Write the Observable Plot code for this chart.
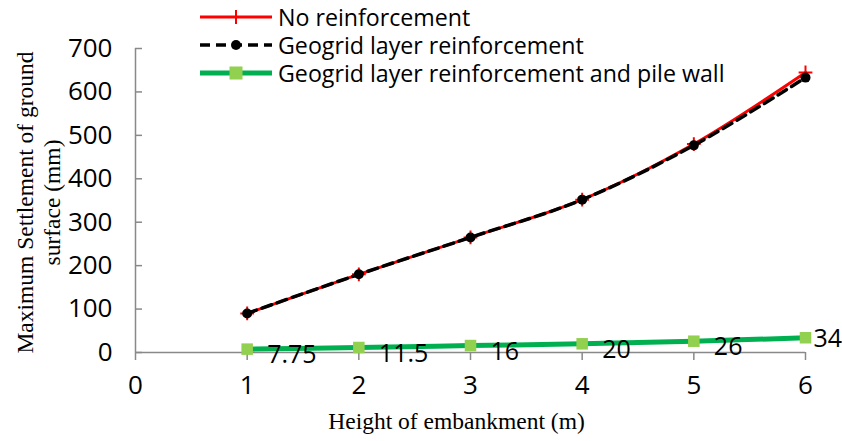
<!DOCTYPE html>
<html><head><meta charset="utf-8">
<script src="https://cdn.jsdelivr.net/npm/d3@7"></script>
<script src="https://cdn.jsdelivr.net/npm/@observablehq/plot@0.6"></script>
<style>
body{margin:0;background:#fff;}
#wrap{position:relative;width:842px;height:441px;overflow:hidden;}
#legend{position:absolute;left:200px;top:3px;font-family:"Open Sans",sans-serif;font-size:23.2px;line-height:27px;color:#000;}
.row{display:flex;align-items:center;height:28px;white-space:nowrap;}
.row span{line-height:27px;}
.row svg{margin-right:6px;}
</style></head><body>
<div id="wrap"><div id="chart"></div><div id="legend"></div></div>
<script>
const heights = [1, 2, 3, 4, 5, 6];
const noReinforcement = [90, 180, 265, 352, 480, 645];
const geogrid = [90, 180, 265, 352, 477, 633];
const geogridPile = [7.75, 11.5, 16, 20, 26, 34];
const seriesNames = ["No reinforcement", "Geogrid layer reinforcement", "Geogrid layer reinforcement and pile wall"];
const xTicks = [0, 1, 2, 3, 4, 5, 6];
const yTicks = [0, 100, 200, 300, 400, 500, 600, 700];
const xTitle = "Height of embankment (m)";
const yTitle1 = "Maximum Settlement of ground";
const yTitle2 = "surface (mm)";

const red = heights.map((h, i) => ({x: h, y: noReinforcement[i]}));
const blk = heights.map((h, i) => ({x: h, y: geogrid[i]}));
const grn = heights.map((h, i) => ({x: h, y: geogridPile[i], label: String(geogridPile[i])}));

const gray = "#898989";
const sans = "'Open Sans', sans-serif";
const serif = "'Liberation Serif', 'Times New Roman', serif";

const plot = Plot.plot({
  width: 842, height: 441,
  marginLeft: 135, marginRight: 37, marginTop: 48, marginBottom: 89,
  style: {fontFamily: sans, fontSize: "26px", background: "#fff", color: "#000"},
  x: {domain: [0, 6]},
  y: {domain: [0, 700]},
  marks: [
    Plot.ruleY([0], {stroke: gray, strokeWidth: 1.5}),
    Plot.ruleX([0], {stroke: gray, strokeWidth: 1.5}),
    Plot.axisX({ticks: xTicks, tickFormat: d => String(d), tickSize: 8, tickPadding: 15, stroke: gray, strokeWidth: 1.5, label: null, fontSize: 26, fill: "#000"}),
    Plot.axisY({ticks: yTicks, tickFormat: d => String(d), tickSize: 0, tickPadding: 23, label: null, fontSize: 26, fill: "#000"}),
    Plot.axisY({ticks: yTicks, tickSize: -7, text: null, stroke: gray, strokeWidth: 1.5, label: null}),
    Plot.text([xTitle], {frameAnchor: "bottom", dx: -14, dy: 76, fontFamily: serif, fontSize: 23.5}),
    Plot.text([yTitle1], {frameAnchor: "left", textAnchor: "middle", rotate: -90, dx: -110, dy: 2, fontFamily: serif, fontSize: 23.5}),
    Plot.text([yTitle2], {frameAnchor: "left", textAnchor: "middle", rotate: -90, dx: -83, dy: 2, fontFamily: serif, fontSize: 23.5}),
    Plot.line(red, {x: "x", y: "y", stroke: "#FF0000", strokeWidth: 3, curve: "catmull-rom"}),
    Plot.dot(red, {x: "x", y: "y", symbol: "plus", r: 4.5, stroke: "#FF0000", strokeWidth: 2}),
    Plot.line(blk, {x: "x", y: "y", stroke: "#000", strokeWidth: 3.5, strokeDasharray: "10,6", curve: "catmull-rom"}),
    Plot.dot(blk, {x: "x", y: "y", r: 5, fill: "#000"}),
    Plot.line(grn, {x: "x", y: "y", stroke: "#00B050", strokeWidth: 5, curve: "catmull-rom"}),
    Plot.dot(grn, {x: "x", y: "y", symbol: "square", r: 6.5, fill: "#92D050"}),
    Plot.text(grn.slice(0, 5), {x: "x", y: "y", text: "label", textAnchor: "start", dx: 20, dy: 6, fontSize: 25}),
    Plot.text(grn.slice(5), {x: "x", y: "y", text: "label", textAnchor: "start", dx: 8, dy: 1, fontSize: 25})
  ]
});
document.getElementById("chart").appendChild(plot);

// legend
const leg = document.getElementById("legend");
const swatch = (i) => {
  const w = 72, h = 20, c = h / 2;
  let s = `<svg width="${w}" height="${h}">`;
  if (i === 0) {
    s += `<line x1="0" x2="${w}" y1="${c}" y2="${c}" stroke="#FF0000" stroke-width="3"/>`;
    s += `<line x1="${w/2}" x2="${w/2}" y1="${c-7}" y2="${c+7}" stroke="#FF0000" stroke-width="2"/>`;
  } else if (i === 1) {
    s += `<line x1="0" x2="${w}" y1="${c}" y2="${c}" stroke="#000" stroke-width="3.5" stroke-dasharray="10,6"/>`;
    s += `<circle cx="${w/2}" cy="${c}" r="5" fill="#000"/>`;
  } else {
    s += `<line x1="0" x2="${w}" y1="${c}" y2="${c}" stroke="#00B050" stroke-width="5"/>`;
    s += `<rect x="${w/2-6.5}" y="${c-6.5}" width="13" height="13" fill="#92D050"/>`;
  }
  return s + "</svg>";
};
seriesNames.forEach((n, i) => {
  const d = document.createElement("div");
  d.className = "row";
  d.innerHTML = swatch(i) + `<span>${n}</span>`;
  leg.appendChild(d);
});
</script>
</body></html>
